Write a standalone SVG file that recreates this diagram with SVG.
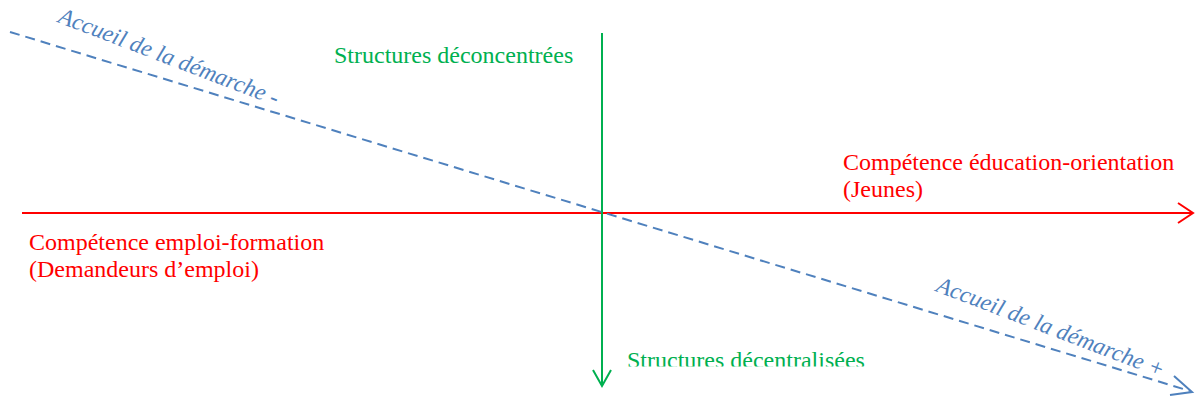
<svg xmlns="http://www.w3.org/2000/svg" width="1195" height="401" viewBox="0 0 1195 401">
<style>
.red{fill:#FF0000;font-family:"Liberation Serif",serif;font-size:24px}
.green{fill:#00B050;font-family:"Liberation Serif",serif;font-size:24px}
.blue{fill:#4F81BD;font-family:"Liberation Serif",serif;font-size:23.5px;font-style:italic}
</style>
<defs>
<clipPath id="clipBottom"><rect x="0" y="0" width="1195" height="366.5"/></clipPath>
</defs>
<rect width="1195" height="401" fill="#fff"/>
<g id="connectors" fill="none" stroke-linecap="butt">
<g id="axis-horizontal" stroke="#FF0000" stroke-width="2">
<line x1="22" y1="213" x2="1192" y2="213"/>
<polyline points="1178,203 1193,213 1178,223"/>
</g>
<g id="axis-vertical" stroke="#00B050" stroke-width="2">
<line x1="602" y1="33" x2="602" y2="385"/>
<polyline points="593,370 602,386 611,370"/>
</g>
<g id="axis-diagonal" stroke="#4F81BD" stroke-width="2">
<line x1="10" y1="32" x2="1190" y2="391" stroke-dasharray="10,6"/>
<polyline points="1174,376 1192,392 1170,395"/>
</g>
</g>
<g id="label-educ"><text class="red" x="843" y="170">Compétence éducation-orientation</text><text class="red" x="843" y="197">(Jeunes)</text></g>
<g id="label-emploi"><text class="red" x="29" y="250">Compétence emploi-formation</text><text class="red" x="29" y="277">(Demandeurs d’emploi)</text></g>
<g id="label-deconc"><text class="green" x="334" y="63">Structures déconcentrées</text></g>
<g id="label-decent" clip-path="url(#clipBottom)"><text class="green" x="627" y="368">Structures décentralisées</text></g>
<g id="label-minus"><text class="blue" x="57" y="22" transform="rotate(21 57 22)">Accueil de la démarche -</text></g>
<g id="label-plus"><text class="blue" x="935" y="291" transform="rotate(21 935 291)">Accueil de la démarche +</text></g>
</svg>
